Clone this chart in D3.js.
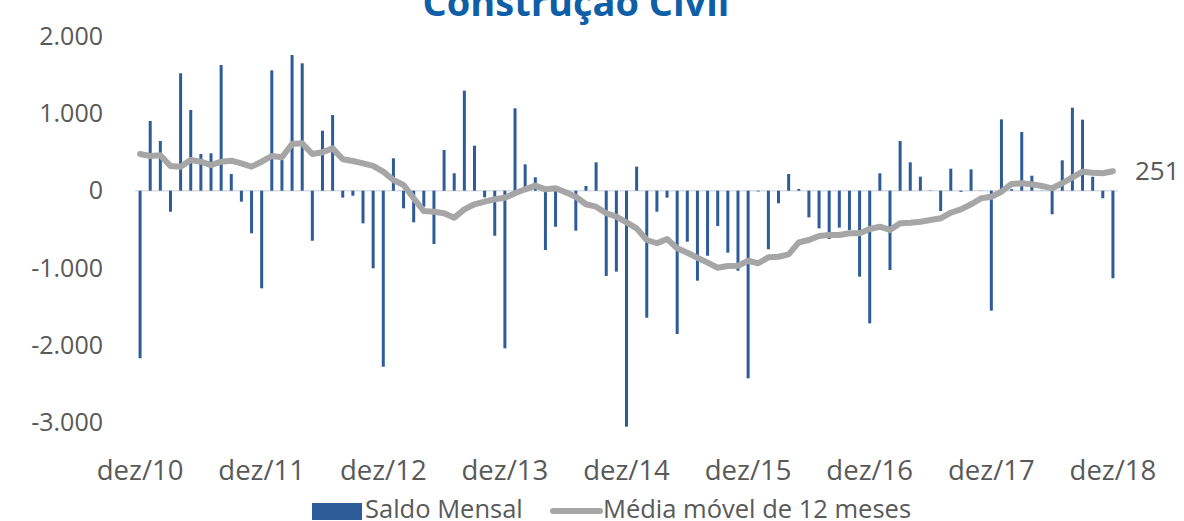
<!DOCTYPE html>
<html lang="pt">
<head>
<meta charset="utf-8">
<title>Construção Civil</title>
<script src="https://cdn.jsdelivr.net/npm/d3@7"></script>
<style>
	body { margin: 0; background: #fff; }
	text { font-family: "Open Sans", "Noto Sans", sans-serif; }
</style>
</head>
<body>
<div id="chart"></div>
<script>
var tickLabels = ["dez/10", "dez/11", "dez/12", "dez/13", "dez/14", "dez/15", "dez/16", "dez/17", "dez/18"];
var yTicks = [-3000, -2000, -1000, 0, 1000, 2000];

// saldo mensal, dez/10 .. dez/18
var saldo = [
	-2168, 902, 643, -272, 1519, 1044, 475, 484, 1626, 216, -142, -551,
	-1263, 1557, 397, 1756, 1648, -647, 776, 979, -90, -65, -422, -1004,
	-2277, 419, -228, -409, -207, -690, 527, 225, 1294, 582, -86, -582,
	-2039, 1066, 341, 173, -767, -466, -10, -517, 61, 367, -1103, -1047,
	-3053, 311, -1643, -272, -90, -1854, -660, -1164, -841, -457, -802, -1035,
	-2427, -10, -758, -163, 216, 22, -345, -487, -625, -478, -508, -1112,
	-1716, 225, -1026, 643, 367, 181, 4, -263, 285, -15, 276, 3,
	-1552, 923, 20, 759, 194, 3, -305, 393, 1074, 919, 181, -98,
	-1133
];

// media movel de 12 meses
var media = [
	475, 449, 458, 320, 311, 397, 375, 332, 375, 388, 354, 311,
	375, 449, 432, 604, 613, 475, 497, 548, 406, 384, 354, 320,
	246, 138, 74, -98, -263, -272, -292, -349, -241, -176, -142, -111,
	-91, -34, 18, 65, 18, 31, -21, -78, -175, -207, -292, -336,
	-409, -487, -638, -680, -625, -745, -802, -867, -931, -996, -974, -970,
	-906, -939, -862, -854, -823, -668, -638, -586, -573, -573, -551, -551,
	-495, -466, -508, -422, -414, -401, -379, -357, -285, -241, -176, -98,
	-78, -13, 87, 96, 83, 61, 31, 96, 173, 246, 233, 225,
	251
];

var W = 1184, H = 521;
var barColor = "#2e5c99", lineColor = "#a6a6a6", textColor = "#595959";

var svg = d3.select("#chart").append("svg")
	.attr("width", W)
	.attr("height", H);

var months = d3.range(saldo.length);

var x = d3.scaleBand()
	.domain(months)
	.range([135, 1118]);

var y = d3.scaleLinear()
	.domain([-3000, 2000])
	.range([422.6, 36.1]);

var fmt = d3.formatLocale({decimal: ",", thousands: ".", grouping: [3], currency: ["R$", ""], minus: "-"}).format(",d");

svg.append("text")
	.attr("x", 576)
	.attr("y", 16)
	.attr("text-anchor", "middle")
	.attr("font-size", "38px")
	.attr("font-weight", "bold")
	.attr("fill", "#0f5fa8")
	.text("Construção Civil");

// y axis
var yAxis = svg.append("g")
	.attr("transform", "translate(110,0)")
	.call(d3.axisLeft(y).tickValues(yTicks).tickSize(0).tickPadding(7).tickFormat(fmt));
yAxis.select(".domain").remove();
yAxis.selectAll("text")
	.attr("font-size", "25px")
	.attr("font-family", null)
	.attr("fill", textColor);

// zero line
svg.append("line")
	.attr("x1", x.range()[0])
	.attr("x2", x.range()[1])
	.attr("y1", y(0))
	.attr("y2", y(0))
	.attr("stroke", "#d9dee6")
	.attr("stroke-width", 1.5);

// bars
svg.append("g").selectAll("rect")
	.data(saldo)
	.enter().append("rect")
	.attr("x", function(d, i) { return x(i) + x.bandwidth() / 2 - 1.5; })
	.attr("width", 3)
	.attr("y", function(d) { return y(Math.max(0, d)); })
	.attr("height", function(d) { return Math.abs(y(d) - y(0)); })
	.attr("fill", barColor);

// moving average
var line = d3.line()
	.x(function(d, i) { return x(i) + x.bandwidth() / 2; })
	.y(function(d) { return y(d); });

svg.append("path")
	.datum(media)
	.attr("d", line)
	.attr("fill", "none")
	.attr("stroke", lineColor)
	.attr("stroke-width", 6)
	.attr("stroke-linejoin", "round")
	.attr("stroke-linecap", "round");

var last = media.length - 1;
svg.append("text")
	.attr("x", x(last) + x.bandwidth() / 2 + 22)
	.attr("y", y(media[last]) + 9)
	.attr("font-size", "26px")
	.attr("fill", textColor)
	.text(media[last]);

// x axis, only december labels
var xAxis = svg.append("g")
	.attr("transform", "translate(0,452)")
	.call(d3.axisBottom(x)
		.tickValues(months.filter(function(i) { return i % 12 == 0; }))
		.tickSize(0)
		.tickFormat(function(i) { return tickLabels[i / 12]; }));
xAxis.select(".domain").remove();
xAxis.selectAll("text")
	.attr("y", 28)
	.attr("dy", 0)
	.attr("font-size", "27.5px")
	.attr("font-family", null)
	.attr("fill", textColor);

// legend
var legend = svg.append("g");
legend.append("rect")
	.attr("x", 312).attr("y", 503)
	.attr("width", 50).attr("height", 17)
	.attr("fill", barColor);
legend.append("text")
	.attr("x", 365).attr("y", 518)
	.attr("font-size", "25.5px")
	.attr("fill", textColor)
	.text("Saldo Mensal");
legend.append("line")
	.attr("x1", 553).attr("x2", 600)
	.attr("y1", 511).attr("y2", 511)
	.attr("stroke", lineColor)
	.attr("stroke-width", 6)
	.attr("stroke-linecap", "round");
legend.append("text")
	.attr("x", 603).attr("y", 518)
	.attr("font-size", "25.5px")
	.attr("fill", textColor)
	.text("Média móvel de 12 meses");
</script>
</body>
</html>
